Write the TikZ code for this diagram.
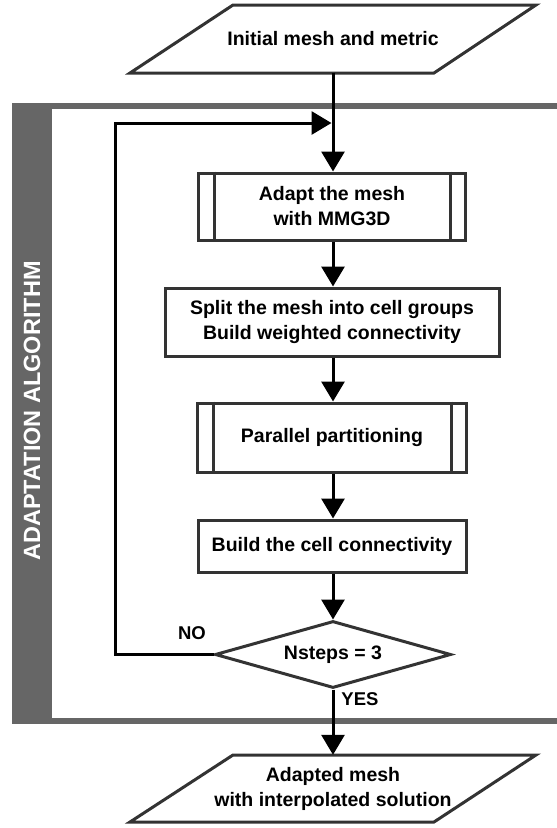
\documentclass[tikz,border=0pt]{standalone}
\usepackage{fontspec}
\setmainfont{Liberation Sans}
\usetikzlibrary{arrows.meta,shapes.geometric,calc}
\definecolor{bordergray}{HTML}{333333}
\definecolor{bandgray}{HTML}{666666}
\begin{document}
\begin{tikzpicture}[x=1pt,y=-1pt,
  txt/.style={font=\fontsize{19.5}{25}\selectfont\bfseries, align=center},
  procbox/.style={txt, draw=bordergray, line width=3pt, fill=white, inner sep=0pt},
  iobox/.style={txt, inner sep=0pt, minimum width=200pt, minimum height=67pt},
  flow/.style={line width=3pt, -{Triangle[length=20pt,width=23pt]}},
  plainline/.style={line width=3pt},
  lbl/.style={font=\fontsize{18.5}{22}\selectfont\bfseries}
]
\useasboundingbox (0,0) rectangle (557,828);
% container
\fill[bandgray] (12,103) rectangle (560,724);
\fill[white] (52,109) rectangle (560,718);
\node[rotate=90, text=white, font=\fontsize{23.5}{28}\selectfont\bfseries] (title) at (32,411) {ADAPTATION ALGORITHM};

% top input/output
\node[iobox] (init) at (333,39) {Initial mesh and metric};
\draw[bordergray, line width=3pt, line join=miter, fill=white]
  (233,5) -- (536,5) -- (434,73) -- (130,73) -- cycle;
\node[iobox] at (333,39) {Initial mesh and metric};

% process boxes
\node[procbox, minimum width=267pt, minimum height=67pt] (adapt) at (332,206.5) {Adapt the mesh\\with MMG3D};
\draw[bordergray, line width=3pt] ($(adapt.north west)+(17,0)$) -- ($(adapt.south west)+(17,0)$)
  ($(adapt.north east)+(-17,0)$) -- ($(adapt.south east)+(-17,0)$);

\node[procbox, minimum width=334pt, minimum height=68pt] (split) at (332,322) {Split the mesh into cell groups\\Build weighted connectivity};

\node[procbox, minimum width=269pt, minimum height=69pt] (part) at (332,437.5) {Parallel partitioning};
\draw[bordergray, line width=3pt] ($(part.north west)+(17,0)$) -- ($(part.south west)+(17,0)$)
  ($(part.north east)+(-17,0)$) -- ($(part.south east)+(-17,0)$);

\node[procbox, minimum width=268pt, minimum height=52pt] (build) at (332,546) {Build the cell connectivity};

\node[procbox, shape=diamond, aspect=3.5, minimum width=236pt, minimum height=67pt] (test) at (333,654.5) {Nsteps = 3};

% output
\draw[bordergray, line width=3pt, line join=miter, fill=white]
  (233,755) -- (536,755) -- (434,822) -- (130,822) -- cycle;
\node[iobox, minimum height=67pt] (out) at (333,788.5) {Adapted mesh\\with interpolated solution};

% connectors
\coordinate (join) at (333,123);
\coordinate (corner1) at (115,654.5);
\coordinate (corner2) at (115,123);
\draw[plainline] (init.south) -- (join);
\draw[flow] (join) -- (adapt.north -| join);
\draw[flow] (test.west) -- (corner1) -- (corner2) -- ($(join)+(-1.5,0)$);
\draw[flow] (adapt.south -| join) -- (split.north -| join);
\draw[flow] (split.south -| join) -- (part.north -| join);
\draw[flow] (part.south -| join) -- (build.north -| join);
\draw[flow] (build.south -| join) -- (test.north);
\draw[flow] (test.south) -- (out.north);

\node[lbl] (no) at (192,633) {NO};
\node[lbl] (yes) at (360,699) {YES};
\end{tikzpicture}
\end{document}
